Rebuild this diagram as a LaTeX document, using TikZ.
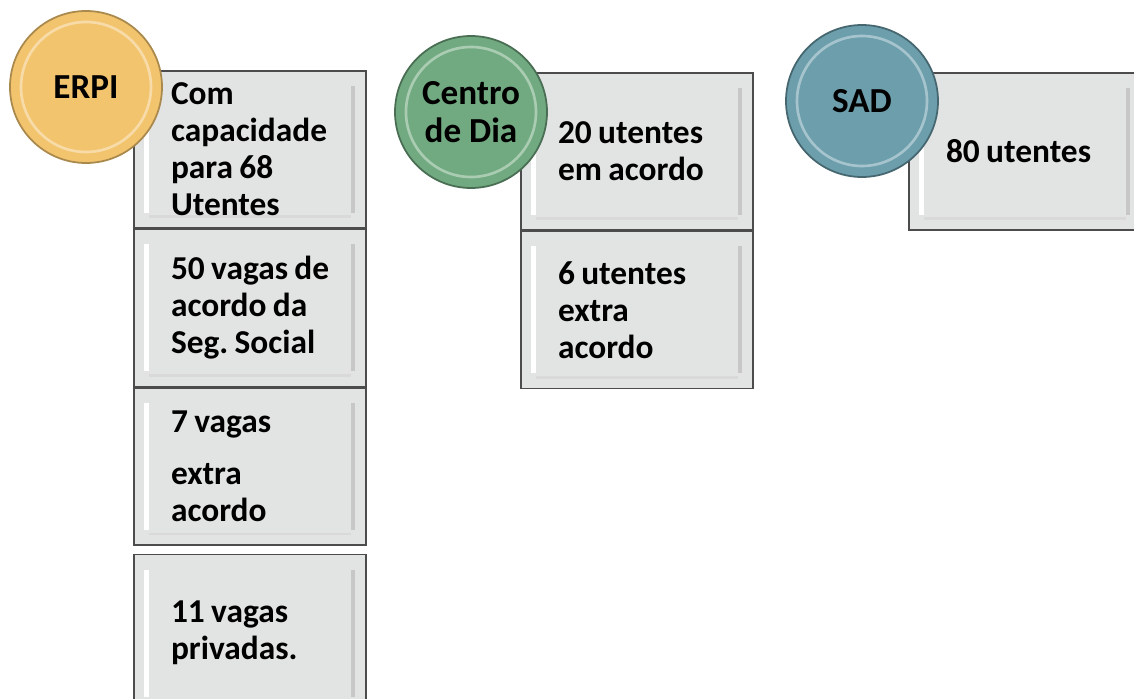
\documentclass[tikz,border=0pt]{standalone}
\usepackage{fontspec}
\setmainfont{Carlito}
\usepackage{tikz}
\usetikzlibrary{calc,positioning}
\frenchspacing

\definecolor{erpiC}{RGB}{243,196,110}
\definecolor{diaC}{RGB}{113,170,128}
\definecolor{sadC}{RGB}{108,158,172}
\definecolor{cellC}{RGB}{226,228,228}

\tikzset{
  cell/.style={draw=black!70,line width=0.9pt,fill=cellC,
    minimum width=4.64cm,minimum height=3.14cm,
    text width=3.65cm,inner xsep=0.495cm,inner ysep=0mm,align=left,
    execute at begin node={\leftskip=0.25cm\relax\spaceskip=0.19em plus 0.05em\relax},
    font=\fontsize{19}{21}\selectfont\bfseries,
    path picture={
      \draw[white,line width=3pt] ($(path picture bounding box.north west)+(0.26,-0.3)$)--($(path picture bounding box.south west)+(0.26,0.3)$);
      \draw[black!22,line width=2pt] ($(path picture bounding box.north east)+(-0.26,-0.3)$)--($(path picture bounding box.south east)+(-0.26,0.3)$);
      \draw[black!15,line width=1.5pt] ($(path picture bounding box.south west)+(0.3,0.22)$)--($(path picture bounding box.south east)+(-0.3,0.22)$);
    }},
  disc/.style={circle,minimum size=3.04cm,line width=1pt,align=center,
    font=\fontsize{20}{22}\selectfont\bfseries,
    path picture={
      \draw[white,opacity=0.4,line width=1.5pt] (path picture bounding box.center) circle (1.3cm);
    }}
}

\begin{document}
\begin{tikzpicture}[inner sep=0.4mm]
\useasboundingbox (0,0) rectangle (22.68,-13.98);

% ERPI column
\node[cell,anchor=north west] (erpiA) at (2.66,-1.40) {Com\\capacidade\\para 68\\Utentes};
\node[cell,below=0pt of erpiA] (erpiB) {50 vagas de\\acordo da\\Seg. Social};
\node[cell,below=0pt of erpiB] (erpiC) {7 vagas\\[0.45em]extra\\acordo};
\node[cell,below=0.16cm of erpiC] (erpiD) {11 vagas\\privadas.};

% Centro de Dia column
\node[cell,anchor=north west] (diaA) at (10.40,-1.44) {20 utentes\\em acordo};
\node[cell,below=0pt of diaA] (diaB) {6 utentes\\extra\\acordo};

% SAD column
\node[cell,anchor=north west] (sadA) at (18.16,-1.44) {80 utentes};

\node[disc,fill=erpiC,draw=erpiC!70!black] (erpi) at (1.72,-1.74) {ERPI};
\node[disc,fill=diaC,draw=diaC!65!black] (dia) at (9.42,-2.24) {Centro\\de Dia};
\node[disc,fill=sadC,draw=sadC!65!black] (sad) at (17.24,-2.02) {SAD};

\end{tikzpicture}
\end{document}
